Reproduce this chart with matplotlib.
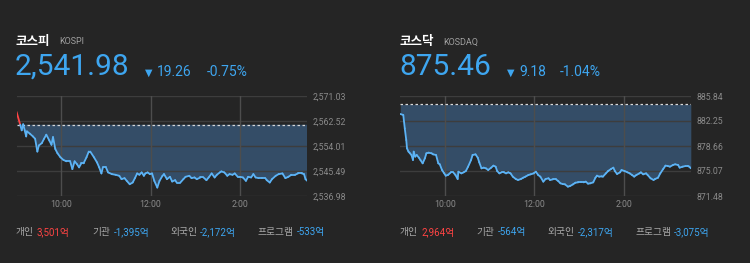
import numpy as np
import matplotlib.pyplot as plt
from matplotlib.ticker import FixedLocator, FuncFormatter

plt.rcParams['font.family'] = ['Roboto', 'Noto Sans CJK KR', 'DejaVu Sans']

# minutes after 9:00
kospi_t = [0, 5, 7, 9, 11, 13, 14, 18, 22, 25, 28, 30, 34, 37, 40, 44, 47, 49, 52, 55,
           59, 63, 67, 72, 75, 78, 81, 84, 87, 90, 94, 97, 99, 104, 108, 111, 114, 116, 120, 123,
           128, 133, 138, 141, 145, 148, 152, 156, 159, 162, 165, 168, 171, 173, 176, 179, 182, 185, 189, 192,
           196, 198, 202, 206, 209, 213, 215, 220, 224, 227, 232, 235, 239, 242, 247, 251, 255, 258, 262, 266,
           269, 273, 275, 279, 283, 286, 290, 293, 297, 300, 304, 308, 311, 315, 318, 321, 325, 329, 334, 336,
           340, 343, 348, 352, 357, 361, 365, 369, 374, 378, 383, 386, 388, 390]
kospi_v = [2565.64, 2561.24, 2559.34, 2561.40, 2559.34, 2557.27, 2558.99, 2558.19, 2557.27, 2556.47,
           2552.11, 2554.18, 2554.98, 2556.47, 2557.85, 2555.90, 2554.41, 2557.04, 2553.03, 2551.54,
           2550.16, 2549.25, 2548.79, 2548.79, 2546.15, 2548.79, 2547.87, 2546.73, 2548.10, 2548.10,
           2550.16, 2552.11, 2552.11, 2550.16, 2548.45, 2546.73, 2544.66, 2546.73, 2546.73, 2545.01,
           2544.43, 2544.20, 2543.86, 2542.71, 2543.06, 2542.14, 2540.99, 2541.57, 2543.06, 2544.66,
           2544.20, 2545.01, 2543.86, 2544.66, 2545.01, 2544.43, 2544.66, 2542.14, 2539.85, 2542.14,
           2543.86, 2544.43, 2542.71, 2543.52, 2541.91, 2542.37, 2541.57, 2541.57, 2542.71, 2543.52,
           2543.86, 2543.06, 2543.29, 2542.71, 2543.29, 2543.29, 2542.37, 2543.29, 2544.66, 2543.29,
           2544.20, 2545.01, 2545.35, 2545.01, 2543.86, 2544.43, 2544.20, 2544.66, 2543.52, 2543.52,
           2543.29, 2542.14, 2543.52, 2543.29, 2544.43, 2543.29, 2543.06, 2543.06, 2543.06, 2542.37,
           2541.57, 2542.71, 2543.86, 2544.43, 2544.66, 2543.06, 2543.52, 2544.20, 2544.20, 2544.66,
           2544.66, 2544.43, 2542.71, 2542.20]
kospi_prev = 2561.24
kospi_ticks = [2536.98, 2545.49, 2554.01, 2562.52, 2571.03]

kosdaq_t = [0, 4, 6, 8, 9, 11, 13, 15, 17, 18, 20, 22, 25, 27, 30, 33, 35, 38, 42, 44,
            48, 51, 53, 56, 59, 61, 64, 68, 71, 74, 77, 78, 82, 85, 88, 91, 95, 97, 101, 104,
            106, 109, 112, 115, 118, 122, 125, 128, 130, 133, 136, 139, 142, 145, 148, 151, 155, 158, 162, 165,
            168, 172, 175, 179, 182, 185, 188, 192, 195, 199, 201, 205, 209, 212, 215, 218, 221, 225, 228, 232,
            235, 239, 243, 246, 249, 252, 255, 259, 262, 264, 267, 270, 272, 276, 279, 283, 286, 288, 291, 295,
            297, 301, 305, 308, 311, 314, 317, 321, 323, 326, 330, 332, 336, 340, 342, 346, 349, 353, 356, 359,
            362, 366, 369, 373, 375, 379, 383, 386, 388, 390]
kosdaq_v = [883.26, 883.11, 881.20, 879.52, 878.32, 877.85, 877.61, 877.37, 876.65, 877.85,
            877.13, 877.37, 876.98, 876.65, 876.17, 876.89, 877.61, 877.70, 877.61, 877.46,
            877.37, 876.17, 876.03, 875.21, 874.73, 874.40, 874.50, 874.88, 874.88, 874.50,
            873.92, 874.97, 874.73, 874.88, 875.07, 875.69, 876.65, 877.37, 877.46, 876.98,
            876.31, 875.45, 875.55, 875.45, 875.21, 875.55, 875.84, 875.69, 875.07, 874.73,
            874.88, 874.88, 874.73, 874.88, 874.73, 874.26, 873.92, 873.78, 873.92, 874.11,
            874.26, 874.50, 874.59, 874.73, 874.97, 874.50, 874.26, 873.54, 873.92, 874.02,
            873.78, 873.87, 873.87, 873.63, 873.30, 873.20, 873.16, 872.82, 872.92, 873.16,
            873.39, 873.44, 873.44, 873.44, 873.54, 873.25, 873.30, 873.44, 874.11, 874.40,
            874.26, 874.30, 874.26, 874.73, 875.07, 875.36, 875.55, 875.07, 874.64, 874.88,
            875.21, 875.07, 874.88, 874.73, 874.50, 874.26, 874.50, 874.73, 874.88, 874.59,
            874.73, 874.50, 874.02, 873.78, 873.92, 874.11, 874.73, 875.36, 875.84, 875.79,
            875.69, 875.93, 876.03, 875.93, 875.55, 875.69, 875.79, 875.79, 875.69, 875.46]
kosdaq_prev = 884.64
kosdaq_ticks = [871.48, 875.07, 878.66, 882.25, 885.84]

xtick_pos = [60, 180, 300]
xtick_lab = ['10:00', '12:00', '2:00']

kospi_flow = [('개인', '3,501억'), ('기관', '-1,395억'), ('외국인', '-2,172억'), ('프로그램', '-533억')]
kosdaq_flow = [('개인', '2,964억'), ('기관', '-564억'), ('외국인', '-2,317억'), ('프로그램', '-3,075억')]

BG = '#252525'
BLUE = '#3ea6f0'
LINE = '#5cb3f5'
RED = '#ff4444'
GRAY = '#8a8a8a'

W, H = 750, 263
fig = plt.figure(figsize=(W / 100, H / 100), dpi=100, facecolor=BG)
renderer = fig.canvas.get_renderer()


def txt(x, y, s, **kw):
    return fig.text(x / W, 1 - y / H, s, va='baseline', ha='left', **kw)


def draw_chart(left, t, v, prev, ticks):
    ax = fig.add_axes([left / W, (H - 196) / H, 290.5 / W, 100 / H])
    ax.set_facecolor(BG)
    t = np.array(t, dtype=float)
    v = np.array(v, dtype=float)
    ax.fill_between(t, v, prev, where=v <= prev, interpolate=True, color='#35506b', lw=0, alpha=0.95)
    ax.axhline(prev, color='#d8d8d8', lw=0.9, ls=(0, (2, 2)), zorder=3)
    for i in range(len(t) - 1):
        c = RED if v[i] > prev + 0.5 else LINE
        ax.plot(t[i:i + 2], v[i:i + 2], color=c, lw=1.3, solid_capstyle='round', zorder=4)
    ax.set_xlim(0, 390)
    ax.set_ylim(ticks[0], ticks[-1])
    for y in ticks:
        ax.axhline(y, color='#3d3d3d', lw=1, zorder=1)
    for x in xtick_pos:
        ax.axvline(x, color='#4d4d4d', lw=1, zorder=2)
    for s in ax.spines.values():
        s.set_visible(False)
    ax.yaxis.tick_right()
    ax.yaxis.set_major_locator(FixedLocator(ticks))
    ax.yaxis.set_major_formatter(FuncFormatter(lambda y, p: f'{y:,.2f}'))
    ax.set_xticks(xtick_pos)
    ax.set_xticklabels(xtick_lab)
    ax.tick_params(length=0, colors=GRAY, labelsize=6.3, pad=4.3)
    ax.tick_params(axis='x', pad=3)
    return ax


def draw_header(x0, name, code, code_x, price, chg, pct, chg_x, pct_x):
    txt(x0, 45, name, color='white', fontsize=9, fontweight='bold')
    txt(code_x, 44.5, code, color='#a0a0a0', fontsize=6.5)
    txt(x0 - 1, 75, price, color=BLUE, fontsize=21.5)
    txt(chg_x, 76, '▼', color=BLUE, fontsize=7, family='DejaVu Sans')
    txt(chg_x + 12, 76, chg, color=BLUE, fontsize=10)
    txt(pct_x, 76, pct, color=BLUE, fontsize=10)


def draw_flow(xs, flow):
    for x, (lab, val) in zip(xs, flow):
        t = txt(x, 235.5, lab, color='#a8a8a8', fontsize=7)
        bb = t.get_window_extent(renderer)
        c = BLUE if val.startswith('-') else RED
        txt(bb.x1 + 3, 235.5, val, color=c, fontsize=7)


draw_header(16, '코스피', 'KOSPI', 59, '2,541.98', '19.26', '-0.75%', 145, 207)
draw_header(400, '코스닥', 'KOSDAQ', 443, '875.46', '9.18', '-1.04%', 507, 560)

draw_chart(16.5, kospi_t, kospi_v, kospi_prev, kospi_ticks)
draw_chart(400.3, kosdaq_t, kosdaq_v, kosdaq_prev, kosdaq_ticks)

draw_flow([16, 92.7, 170, 257.7], kospi_flow)
draw_flow([400, 476.7, 547.7, 635], kosdaq_flow)

fig.savefig('out.png', dpi=100, facecolor=BG)
